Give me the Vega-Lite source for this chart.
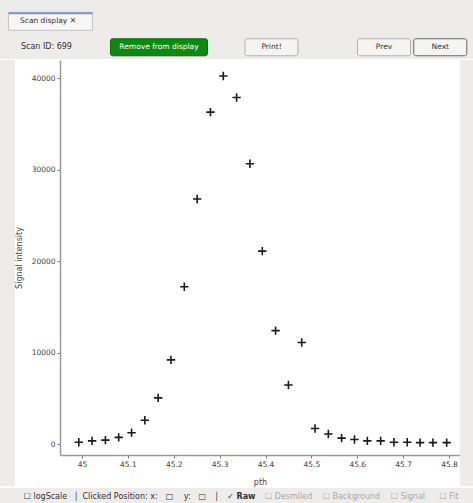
{
  "$schema": "https://vega.github.io/schema/vega-lite/v6.json",
  "padding": 0,
  "background": "white",
  "spacing": 1,
  "config": {
    "font": "DejaVu Sans",
    "view": {"stroke": null},
    "axis": {
      "grid": false,
      "domainColor": "#9a9a9a",
      "domainWidth": 1.5,
      "tickColor": "#777777",
      "tickSize": 3,
      "labelFontSize": 7.5,
      "labelColor": "#444444",
      "titleFontSize": 8,
      "titleColor": "#444444",
      "titleFontWeight": "normal"
    }
  },
  "vconcat": [
    {
      "width": 473,
      "height": 59,
      "view": {"fill": "#edecea", "stroke": null},
      "data": {"values": [
        {"label": "Scan ID: 699"},
        {"label": "Remove from display"},
        {"label": "Print!"},
        {"label": "Prev"},
        {"label": "Next"}
      ]},
      "layer": [
        {
          "data": {"values": [{"tab": "Scan display ✕"}]},
          "mark": {"type": "rect", "width": 84, "height": 18, "fill": "#f6f6f5", "stroke": "#c4c4c4", "xOffset": 4, "yOffset": 3.5},
          "encoding": {
            "x": {"datum": "Scan ID: 699", "type": "nominal", "axis": null,
                  "scale": {"domain": ["Scan ID: 699", " ", "Remove from display", "  ", "Print!", "   ", "Prev", "Next"], "paddingInner": 0, "paddingOuter": 0.2035, "align": 0.8}},
            "y": {"datum": "tab", "type": "nominal", "axis": null,
                  "scale": {"domain": ["tab", "bar"], "paddingInner": 0, "paddingOuter": 0.074, "align": 1}}
          }
        },
        {
          "data": {"values": [{"tab": "Scan display ✕"}]},
          "mark": {"type": "rect", "width": 84, "height": 2, "fill": "#7b98c4", "xOffset": 4, "yOffset": -4.5},
          "encoding": {
            "x": {"datum": "Scan ID: 699", "type": "nominal"},
            "y": {"datum": "tab", "type": "nominal"}
          }
        },
        {
          "data": {"values": [{"tab": "Scan display ✕"}]},
          "mark": {"type": "text", "fontSize": 7.5, "color": "#333333", "dx": 1.5, "dy": 3.5},
          "encoding": {
            "x": {"datum": "Scan ID: 699", "type": "nominal"},
            "y": {"datum": "tab", "type": "nominal"},
            "text": {"field": "tab"}
          }
        },
        {
          "transform": [{"filter": "datum.label === 'Remove from display'"}],
          "mark": {"type": "rect", "width": 97, "height": 17, "fill": "#0b8a12", "stroke": "#0a6a0e", "cornerRadius": 2, "yOffset": 2},
          "encoding": {
            "x": {"field": "label", "type": "nominal"},
            "y": {"datum": "bar", "type": "nominal"}
          }
        },
        {
          "transform": [{"filter": {"field": "label", "oneOf": ["Print!", "Prev", "Next"]}}],
          "mark": {"type": "rect", "width": 53, "height": 17, "fill": "#f4f4f3", "cornerRadius": 2, "yOffset": 2},
          "encoding": {
            "x": {"field": "label", "type": "nominal"},
            "y": {"datum": "bar", "type": "nominal"},
            "stroke": {"condition": {"test": "datum.label === 'Next'", "value": "#666666"}, "value": "#b0b0b0"}
          }
        },
        {
          "mark": {"type": "text", "fontSize": 7.5, "dy": 2},
          "encoding": {
            "x": {"field": "label", "type": "nominal"},
            "y": {"datum": "bar", "type": "nominal"},
            "text": {"field": "label"},
            "size": {"condition": {"test": "datum.label === 'Scan ID: 699'", "value": 8}, "value": 7.5},
            "color": {"condition": {"test": "datum.label === 'Remove from display'", "value": "#ffffff"}, "value": "#333333"}
          }
        }
      ]
    },
    {
      "spacing": 0,
      "hconcat": [
        {
          "width": 15,
          "height": 426,
          "view": {"fill": "#edecea", "stroke": null},
          "data": {"values": [{}]},
          "mark": {"type": "text", "text": ""}
        },
        {
          "width": 400,
          "height": 395,
          "view": {"fill": "white", "stroke": null},
          "data": {"values": [
            {"pth": 44.993, "intensity": 200},
            {"pth": 45.022, "intensity": 350},
            {"pth": 45.051, "intensity": 430},
            {"pth": 45.080, "intensity": 730},
            {"pth": 45.108, "intensity": 1240},
            {"pth": 45.137, "intensity": 2600},
            {"pth": 45.166, "intensity": 5050},
            {"pth": 45.194, "intensity": 9200},
            {"pth": 45.223, "intensity": 17200},
            {"pth": 45.251, "intensity": 26800},
            {"pth": 45.280, "intensity": 36300},
            {"pth": 45.308, "intensity": 40250},
            {"pth": 45.337, "intensity": 37900},
            {"pth": 45.366, "intensity": 30650},
            {"pth": 45.393, "intensity": 21100},
            {"pth": 45.422, "intensity": 12400},
            {"pth": 45.450, "intensity": 6450},
            {"pth": 45.479, "intensity": 11100},
            {"pth": 45.508, "intensity": 1700},
            {"pth": 45.537, "intensity": 1100},
            {"pth": 45.566, "intensity": 650},
            {"pth": 45.594, "intensity": 500},
            {"pth": 45.622, "intensity": 350},
            {"pth": 45.651, "intensity": 350},
            {"pth": 45.680, "intensity": 200},
            {"pth": 45.709, "intensity": 200},
            {"pth": 45.737, "intensity": 150},
            {"pth": 45.765, "intensity": 150},
            {"pth": 45.795, "intensity": 150}
          ]},
          "mark": {"type": "point", "shape": "M-1,0H1M0,-1V1", "filled": false, "stroke": "#1a1a1a", "strokeWidth": 1.6, "size": 70, "opacity": 1},
          "encoding": {
            "x": {
              "field": "pth", "type": "quantitative", "title": "pth",
              "scale": {"domain": [44.952, 45.824], "nice": false, "zero": false},
              "axis": {"values": [45, 45.1, 45.2, 45.3, 45.4, 45.5, 45.6, 45.7, 45.8], "format": "~f", "labelPadding": 2, "titlePadding": 11, "labelFlush": false}
            },
            "y": {
              "field": "intensity", "type": "quantitative", "title": "Signal intensity",
              "scale": {"domain": [-1200, 42000], "nice": false, "zero": false},
              "axis": {"values": [0, 10000, 20000, 30000, 40000], "format": "d", "labelPadding": 2, "titlePadding": 8}
            }
          }
        },
        {
          "width": 13,
          "height": 426,
          "view": {"fill": "#edecea", "stroke": null},
          "data": {"values": [{}]},
          "mark": {"type": "text", "text": ""}
        }
      ]
    },
    {
      "width": 473,
      "height": 16,
      "view": {"fill": "#edecea", "stroke": null},
      "data": {"values": [{"left": "☐ logScale\u2002 │\u2002Clicked Position: x:\u2002\u2002□\u2002\u2002 y:\u2002\u2002□\u2002\u2002│", "raw": "✓ Raw", "off": "☐ Desmiled\u2003 ☐ Background\u2003 ☐ Signal\u2003\u2002 ☐ Fit"}]},
      "layer": [
        {"mark": {"type": "text", "fontSize": 8, "color": "#333333", "align": "right", "dx": -17.5, "dy": 1}, "encoding": {"text": {"field": "left"}}},
        {"mark": {"type": "text", "fontSize": 8, "color": "#333333", "fontWeight": "bold", "align": "left", "dx": -9.5, "dy": 1}, "encoding": {"text": {"field": "raw"}}},
        {"mark": {"type": "text", "fontSize": 8, "color": "#a8a8a8", "align": "left", "dx": 28.5, "dy": 1}, "encoding": {"text": {"field": "off"}}}
      ]
    }
  ]
}
